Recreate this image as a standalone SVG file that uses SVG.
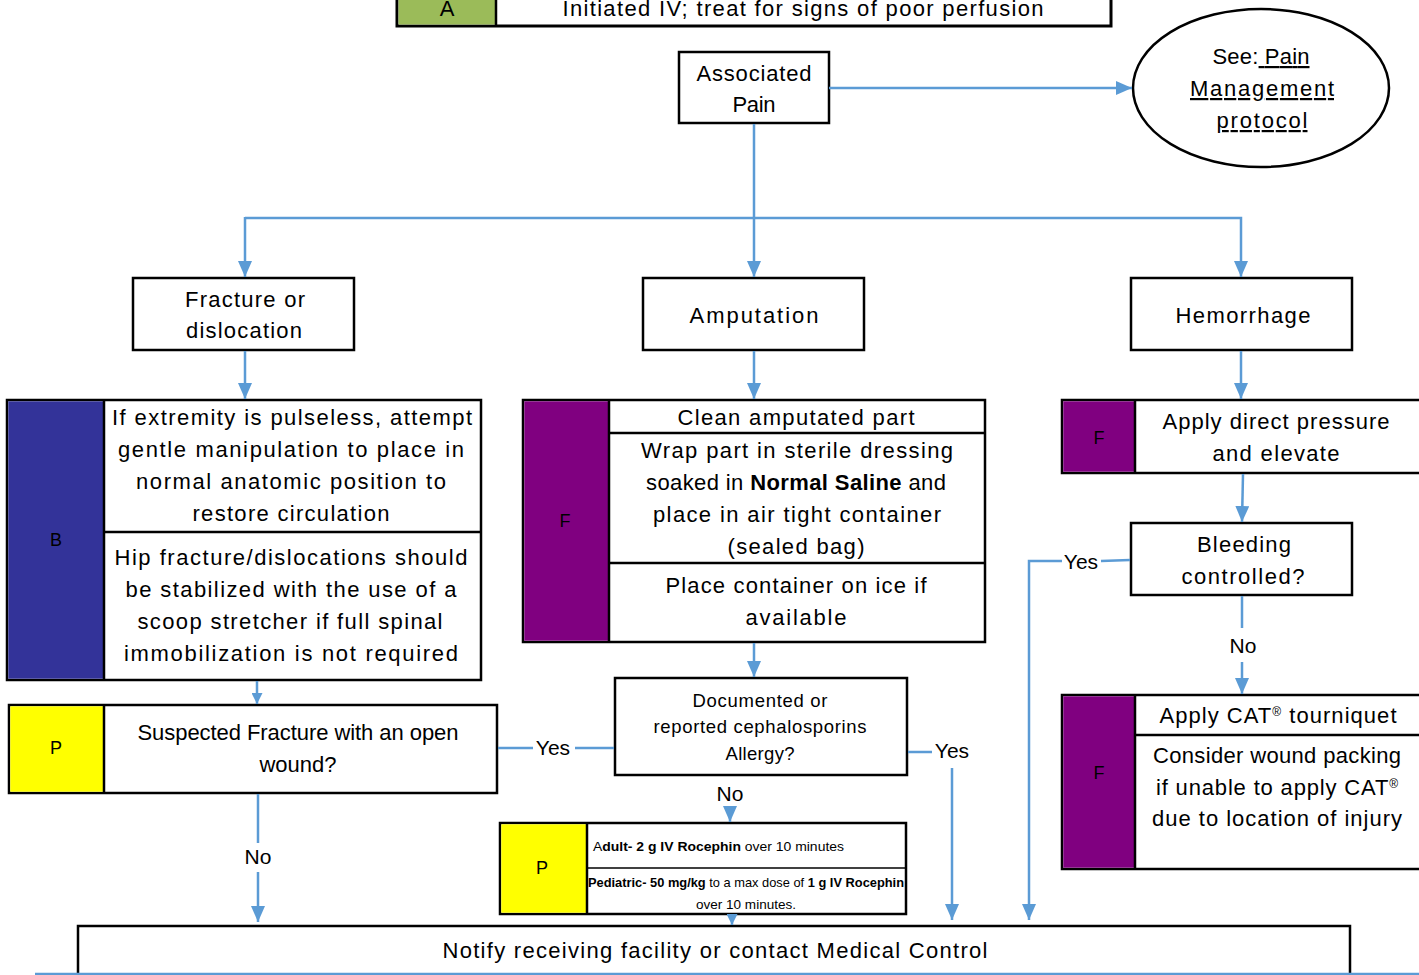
<svg xmlns="http://www.w3.org/2000/svg" width="1419" height="975" viewBox="0 0 1419 975">
<style>
text{font-family:"Liberation Sans",Arial,sans-serif;fill:#000;}
.t{font-size:22px;text-anchor:middle;}
.s{font-size:18.5px;text-anchor:middle;}
.x{font-size:13.5px;}
.lbl{font-size:21px;text-anchor:middle;}
.cl{font-size:18px;text-anchor:middle;}
.box{fill:#fff;stroke:#000;stroke-width:2.5;}
.div{stroke:#000;stroke-width:2.5;fill:none;}
.c{fill:none;stroke:#5B9BD5;stroke-width:2.5;}
.b{font-weight:bold;}
.u{text-decoration:underline;}
</style>
<defs>
<marker id="ah" markerUnits="userSpaceOnUse" markerWidth="16" markerHeight="14" viewBox="0 0 16 14" refX="16" refY="7" orient="auto">
<path d="M0,0 L16,7 L0,14 z" fill="#5B9BD5"/>
</marker>
<marker id="ahs" markerUnits="userSpaceOnUse" markerWidth="11" markerHeight="11" viewBox="0 0 11 11" refX="11" refY="5.5" orient="auto">
<path d="M0,0 L11,5.5 L0,11 z" fill="#5B9BD5"/>
</marker>
</defs>

<g id="top-bar">
<rect x="397" y="-10" width="714" height="36" fill="#fff" stroke="#000" stroke-width="3"/>
<rect x="398.5" y="-10" width="97" height="34.5" fill="#9BBB59"/>
<line class="div" x1="496" y1="-10" x2="496" y2="26"/>
<text class="t" x="447" y="16">A</text>
<text class="t" x="803" y="16" textLength="481" lengthAdjust="spacing">Initiated IV; treat for signs of poor perfusion</text>
</g>

<g id="associated-pain">
<rect class="box" x="679" y="52" width="150" height="71"/>
<text class="t" x="754" y="81" textLength="115" lengthAdjust="spacing">Associated</text>
<text class="t" x="754" y="112" textLength="43" lengthAdjust="spacing">Pain</text>
</g>

<g id="pain-protocol">
<ellipse cx="1261" cy="88" rx="128" ry="79" fill="#fff" stroke="#000" stroke-width="2.5"/>
<text class="t" x="1261" y="64" textLength="97" lengthAdjust="spacing">See:<tspan class="u"> Pain</tspan></text>
<text class="t u" x="1262" y="96" textLength="144" lengthAdjust="spacing">Management</text>
<text class="t u" x="1262" y="128" textLength="91" lengthAdjust="spacing">protocol</text>
</g>

<g id="fracture">
<rect class="box" x="133" y="278" width="221" height="72"/>
<text class="t" x="245" y="307" textLength="120" lengthAdjust="spacing">Fracture or</text>
<text class="t" x="244" y="338" textLength="116" lengthAdjust="spacing">dislocation</text>
</g>

<g id="amputation">
<rect class="box" x="643" y="278" width="221" height="72"/>
<text class="t" x="754" y="323" textLength="129" lengthAdjust="spacing">Amputation</text>
</g>

<g id="hemorrhage">
<rect class="box" x="1131" y="278" width="221" height="72"/>
<text class="t" x="1243" y="323" textLength="135" lengthAdjust="spacing">Hemorrhage</text>
</g>

<g id="fracture-care">
<rect class="box" x="7" y="400" width="474" height="280"/>
<rect x="8.3" y="401.3" width="95.7" height="277.4" fill="#333399"/>
<line class="div" x1="104" y1="400" x2="104" y2="680"/>
<line class="div" x1="104" y1="532" x2="481" y2="532"/>
<text class="cl" x="56" y="546">B</text>
<text class="t" x="292" y="425" textLength="360" lengthAdjust="spacing">If extremity is pulseless, attempt</text>
<text class="t" x="291" y="457" textLength="346" lengthAdjust="spacing">gentle manipulation to place in</text>
<text class="t" x="291" y="489" textLength="310" lengthAdjust="spacing">normal anatomic position to</text>
<text class="t" x="291" y="521" textLength="197" lengthAdjust="spacing">restore circulation</text>
<text class="t" x="291" y="565" textLength="353" lengthAdjust="spacing">Hip fracture/dislocations should</text>
<text class="t" x="291" y="597" textLength="331" lengthAdjust="spacing">be stabilized with the use of a</text>
<text class="t" x="290" y="629" textLength="305" lengthAdjust="spacing">scoop stretcher if full spinal</text>
<text class="t" x="291" y="661" textLength="334" lengthAdjust="spacing">immobilization is not required</text>
</g>

<g id="amputation-care">
<rect class="box" x="523" y="400" width="462" height="242"/>
<rect x="524.3" y="401.3" width="84.7" height="239.4" fill="#800080"/>
<line class="div" x1="609" y1="400" x2="609" y2="642"/>
<line class="div" x1="609" y1="433" x2="985" y2="433"/>
<line class="div" x1="609" y1="563" x2="985" y2="563"/>
<text class="cl" x="565" y="527">F</text>
<text class="t" x="796" y="425" textLength="237" lengthAdjust="spacing">Clean amputated part</text>
<text class="t" x="797" y="458" textLength="312" lengthAdjust="spacing">Wrap part in sterile dressing</text>
<text class="t" x="796" y="490" textLength="300" lengthAdjust="spacing">soaked in <tspan class="b">Normal Saline</tspan> and</text>
<text class="t" x="797" y="522" textLength="288" lengthAdjust="spacing">place in air tight container</text>
<text class="t" x="796" y="554" textLength="137" lengthAdjust="spacing">(sealed bag)</text>
<text class="t" x="796" y="593" textLength="261" lengthAdjust="spacing">Place container on ice if</text>
<text class="t" x="796" y="625" textLength="101" lengthAdjust="spacing">available</text>
</g>

<g id="allergy">
<rect class="box" x="615" y="678" width="292" height="97"/>
<text class="s" x="760" y="707" textLength="135" lengthAdjust="spacing">Documented or</text>
<text class="s" x="760" y="733" textLength="213" lengthAdjust="spacing">reported cephalosporins</text>
<text class="s" x="760" y="760" textLength="69" lengthAdjust="spacing">Allergy?</text>
</g>

<g id="open-wound">
<rect class="box" x="9" y="705" width="488" height="88"/>
<rect x="10.3" y="706.3" width="93.7" height="85.4" fill="#FFFF00"/>
<line class="div" x1="104" y1="705" x2="104" y2="793"/>
<text class="cl" x="56" y="754">P</text>
<text class="t" x="298" y="740" textLength="321" lengthAdjust="spacing">Suspected Fracture with an open</text>
<text class="t" x="298" y="772" textLength="77" lengthAdjust="spacing">wound?</text>
</g>

<g id="rocephin">
<rect class="box" x="500" y="823" width="406" height="91"/>
<rect x="501.3" y="824.3" width="85.7" height="88.4" fill="#FFFF00"/>
<line class="div" x1="587" y1="823" x2="587" y2="914"/>
<line x1="587" y1="868" x2="906" y2="868" stroke="#000" stroke-width="1.5"/>
<text class="cl" x="542" y="874">P</text>
<text class="x" x="593" y="851" textLength="251" lengthAdjust="spacingAndGlyphs">A<tspan class="b">dult- 2 g IV Rocephin</tspan> over 10 minutes</text>
<text class="x" x="588" y="887" textLength="316" lengthAdjust="spacingAndGlyphs"><tspan class="b">Pediatric- 50 mg/kg</tspan> to a max dose of <tspan class="b">1 g IV Rocephin</tspan></text>
<text class="x" x="746" y="909" text-anchor="middle" textLength="100" lengthAdjust="spacingAndGlyphs">over 10 minutes.</text>
</g>

<g id="direct-pressure">
<rect class="box" x="1062" y="400" width="380" height="73"/>
<rect x="1063.3" y="401.3" width="71.7" height="70.4" fill="#800080"/>
<line class="div" x1="1135" y1="400" x2="1135" y2="473"/>
<text class="cl" x="1099" y="444">F</text>
<text class="t" x="1276" y="429" textLength="227" lengthAdjust="spacing">Apply direct pressure</text>
<text class="t" x="1276" y="461" textLength="127" lengthAdjust="spacing">and elevate</text>
</g>

<g id="bleeding">
<rect class="box" x="1131" y="523" width="221" height="72"/>
<text class="t" x="1244" y="552" textLength="94" lengthAdjust="spacing">Bleeding</text>
<text class="t" x="1243" y="584" textLength="123" lengthAdjust="spacing">controlled?</text>
</g>

<g id="tourniquet">
<rect class="box" x="1062" y="695" width="380" height="174"/>
<rect x="1063.3" y="696.3" width="71.7" height="171.4" fill="#800080"/>
<line class="div" x1="1135" y1="695" x2="1135" y2="869"/>
<line class="div" x1="1135" y1="735" x2="1442" y2="735"/>
<text class="cl" x="1099" y="779">F</text>
<text class="t" x="1278" y="723" textLength="237" lengthAdjust="spacing">Apply CAT<tspan font-size="12" dy="-7">®</tspan><tspan dy="7"> tourniquet</tspan></text>
<text class="t" x="1277" y="763" textLength="248" lengthAdjust="spacing">Consider wound packing</text>
<text class="t" x="1277" y="795" textLength="242" lengthAdjust="spacing">if unable to apply CAT<tspan font-size="12" dy="-7">®</tspan></text>
<text class="t" x="1277" y="826" textLength="250" lengthAdjust="spacing">due to location of injury</text>
</g>

<g id="notify">
<rect class="box" x="78" y="926" width="1272" height="80"/>
<text class="t" x="715" y="958" textLength="545" lengthAdjust="spacing">Notify receiving facility or contact Medical Control</text>
</g>

<g id="connectors">
<line class="c" x1="829" y1="88" x2="1132" y2="88" marker-end="url(#ah)"/>
<line class="c" x1="754" y1="124" x2="754" y2="277" marker-end="url(#ah)"/>
<polyline class="c" points="245,218 1241,218 1241,277" marker-end="url(#ah)"/>
<line class="c" x1="245" y1="217" x2="245" y2="277" marker-end="url(#ah)"/>
<line class="c" x1="245" y1="351" x2="245" y2="399" marker-end="url(#ah)"/>
<line class="c" x1="754" y1="351" x2="754" y2="399" marker-end="url(#ah)"/>
<line class="c" x1="1241" y1="351" x2="1241" y2="399" marker-end="url(#ah)"/>
<line class="c" x1="257" y1="681" x2="257" y2="704" marker-end="url(#ahs)"/>
<line class="c" x1="754" y1="643" x2="754" y2="677" marker-end="url(#ah)"/>
<line class="c" x1="498" y1="748" x2="533" y2="748"/>
<line class="c" x1="575" y1="748" x2="614" y2="748"/>
<line class="c" x1="258" y1="794" x2="258" y2="843"/>
<line class="c" x1="258" y1="872" x2="258" y2="922" marker-end="url(#ah)"/>
<line class="c" x1="908" y1="752" x2="932" y2="752"/>
<line class="c" x1="952" y1="768" x2="952" y2="920" marker-end="url(#ah)"/>
<line class="c" x1="730" y1="808" x2="730" y2="822" marker-end="url(#ah)"/>
<line class="c" x1="732" y1="915" x2="732" y2="925" marker-end="url(#ahs)"/>
<line class="c" x1="1243" y1="474" x2="1242" y2="522" marker-end="url(#ah)"/>
<polyline class="c" points="1130,560 1101,561"/>
<polyline class="c" points="1062,561 1029,561 1029,920" marker-end="url(#ah)"/>
<line class="c" x1="1242" y1="596" x2="1242" y2="628"/>
<line class="c" x1="1242" y1="662" x2="1242" y2="694" marker-end="url(#ah)"/>
<line class="c" x1="35" y1="974" x2="1419" y2="974" stroke-width="2"/>
<text class="lbl" x="553" y="755">Yes</text>
<text class="lbl" x="258" y="864">No</text>
<text class="lbl" x="952" y="758">Yes</text>
<text class="lbl" x="730" y="801">No</text>
<text class="lbl" x="1081" y="569">Yes</text>
<text class="lbl" x="1243" y="653">No</text>
</g>
</svg>
